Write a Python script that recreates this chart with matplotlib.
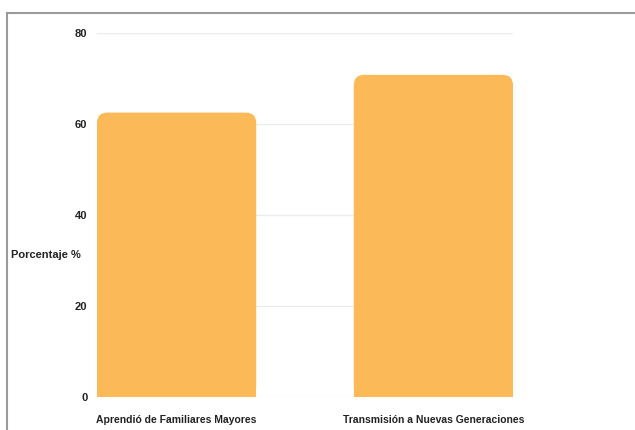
import matplotlib.pyplot as plt
from matplotlib.patches import FancyBboxPatch, Rectangle
from matplotlib.lines import Line2D

# datos
categorias = ["Aprendió de Familiares Mayores", "Transmisión a Nuevas Generaciones"]
porcentajes = [62.5, 70.8]
ticks_y = [0, 20, 40, 60, 80]

color_barra = "#FBB957"

plt.rcParams['font.family'] = ['Liberation Sans', 'DejaVu Sans']

fig = plt.figure(figsize=(6.35, 4.3), dpi=100)
W, H = 635, 430
ax = fig.add_axes([97 / W, 1 - 397 / H, (513 - 97) / W, (397 - 33) / H])

x = list(range(len(categorias)))
ancho = 0.62
barras = ax.bar(x, porcentajes, width=ancho, color=color_barra, zorder=2)

# esquinas superiores redondeadas
for b in barras:
    x0, w, h = b.get_x(), b.get_width(), b.get_height()
    b.set_visible(False)
    ax.add_patch(FancyBboxPatch((x0, 0), w, h,
                                boxstyle="round,pad=0,rounding_size=0.04",
                                mutation_aspect=57, facecolor=color_barra,
                                edgecolor="none", zorder=2))
    ax.add_patch(Rectangle((x0, 0), w, h / 2, facecolor=color_barra,
                           edgecolor="none", zorder=2))

ax.set_xlim(-0.31, 1.31)
ax.set_ylim(0, 80)
ax.set_yticks(ticks_y)
ax.set_yticklabels([str(t) for t in ticks_y], fontsize=8, fontweight='bold', color='#222222')
ax.set_xticks(x)
ax.set_xticklabels(categorias, fontsize=7.5, fontweight='bold', color='#222222')
ax.tick_params(axis='both', length=0)
ax.tick_params(axis='y', pad=7)
ax.tick_params(axis='x', pad=13)
ax.grid(axis='y', color='#ebebeb', linewidth=0.9, zorder=0)
for s in ax.spines.values():
    s.set_visible(False)

fig.text(11 / W, 1 - 255 / H, "Porcentaje %", fontsize=8, fontweight='bold',
         color='#222222', va='center', ha='left')

# marco gris de la captura
fig.add_artist(Line2D([7 / W, 7 / W], [0, 1 - 13 / H], color='#9a9a9a', linewidth=1.5))
fig.add_artist(Line2D([7 / W, 1], [1 - 13 / H, 1 - 13 / H], color='#9a9a9a', linewidth=1.5))

fig.savefig("out.png", dpi=100)
